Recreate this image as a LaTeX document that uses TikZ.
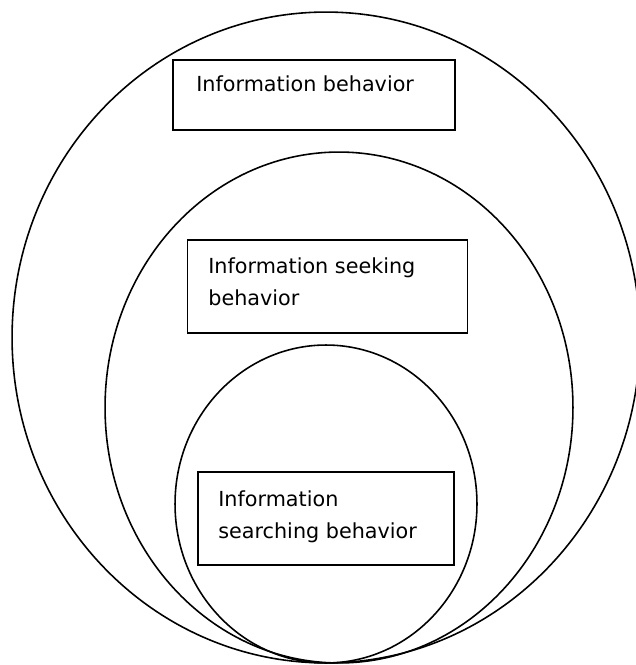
\documentclass[tikz,border=0pt]{standalone}
\usepackage{fontspec}
\setmainfont{DejaVu Sans}
\usetikzlibrary{positioning}

\begin{document}
\begin{tikzpicture}[x=0.02cm, y=-0.02cm]
        % ================= styles =================
        \tikzset{
            % nested ovals
            ring/.style={draw=black, line width=0.9pt},
            % label boxes
            infobox/.style={rectangle, draw=black, line width=1.1pt, fill=white, inner sep=0pt},
            % text inside the boxes (anchored on the baseline of the last line)
            boxtext/.style={inner sep=0pt, anchor=base west, align=left, font=\fontsize{11.8}{18.1}\selectfont}
        }

        \useasboundingbox (0,0) rectangle (635,665);

        % ================= nested ovals =================
        \coordinate (outerc) at (326,337.5);
        \coordinate (midc) at (339,407.5);
        \coordinate (innerc) at (326,504);
        \draw[ring] (outerc) ellipse [x radius=6.28cm, y radius=6.51cm];
        \draw[ring] (midc) ellipse [x radius=4.68cm, y radius=5.11cm];
        \draw[ring] (innerc) ellipse [x radius=3.02cm, y radius=3.18cm];

        % ================= boxes =================
        \node[infobox, minimum width=5.64cm, minimum height=1.40cm] (behbox) at (314,95) {};
        \node[infobox, minimum width=5.60cm, minimum height=1.86cm] (seekbox) at (327.5,286.5) {};
        \node[infobox, minimum width=5.12cm, minimum height=1.86cm] (searchbox) at (326,518.5) {};

        % ================= labels =================
        \node[boxtext] (behtext) at (196,92) {Information behavior};
        \node[boxtext] (seektext) at (208,305) {Information seeking\\behavior};
        \node[boxtext] (searchtext) at (218,538) {Information\\searching behavior};

    \end{tikzpicture}
\end{document}
